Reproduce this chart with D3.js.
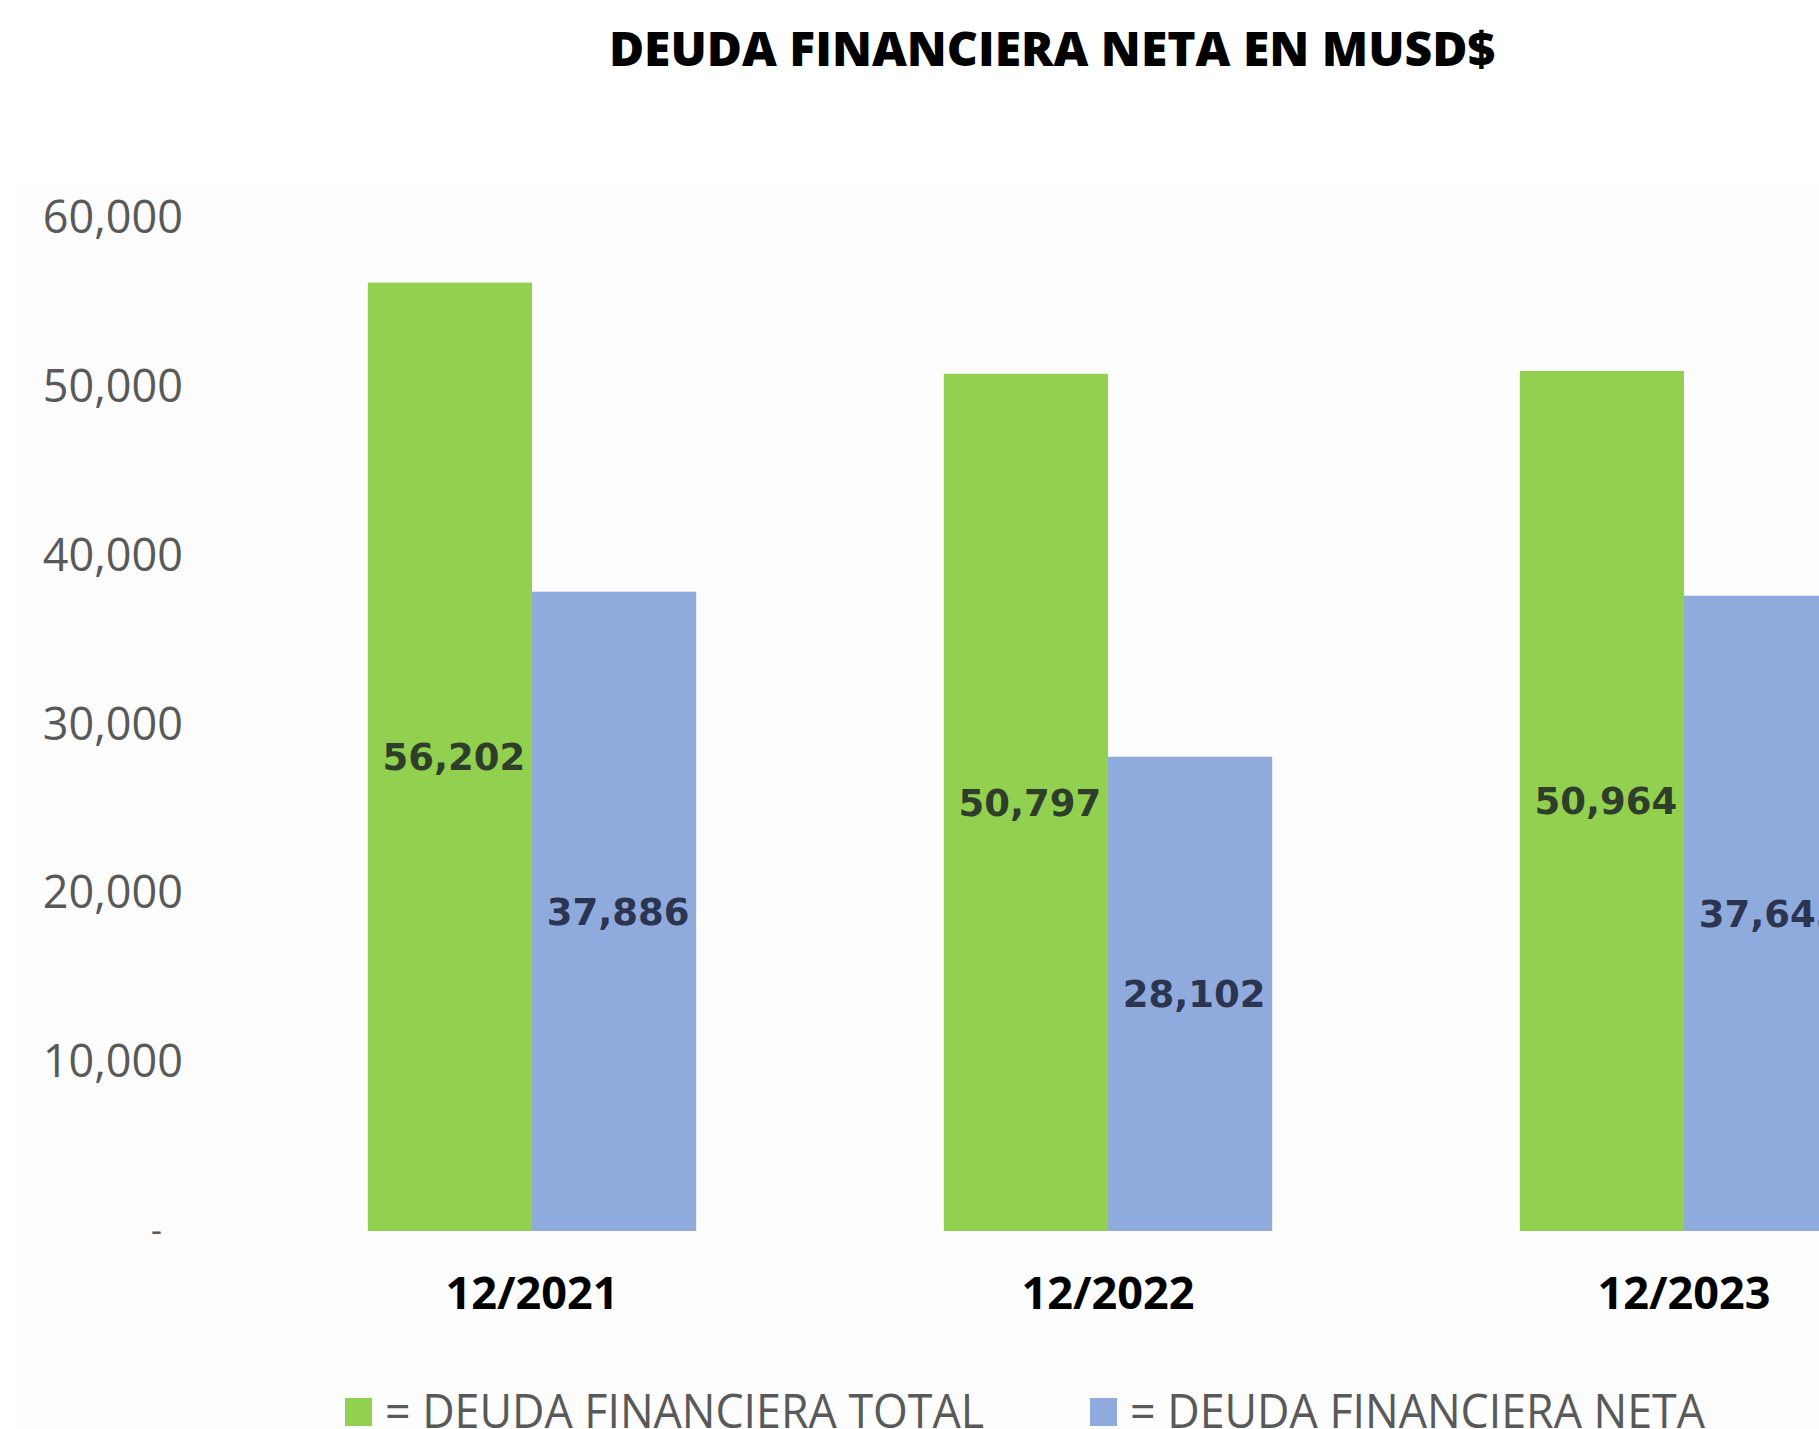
<!DOCTYPE html>
<html>
<head>
<meta charset="utf-8">
<script src="https://cdn.jsdelivr.net/npm/d3@7"></script>
<style>
  html, body { margin: 0; padding: 0; background: #ffffff; overflow: hidden; }
  svg { display: block; }
</style>
</head>
<body>
<script>
// Deuda financiera total vs. neta, en millones de USD
const periods = ["12/2021", "12/2022", "12/2023"];
const seriesKeys = ["total", "neta"];
const seriesNames = ["= DEUDA FINANCIERA TOTAL", "= DEUDA FINANCIERA NETA"];
const deudaTotal = [56202, 50797, 50964];
const deudaNeta = [37886, 28102, 37645];
const yTicks = [0, 10000, 20000, 30000, 40000, 50000, 60000];

const W = 1819, H = 1429;
const colors = { total: "#92d050", neta: "#8faadc" };
const labelColors = { total: "#2f3d2b", neta: "#2b3550" };

const rows = periods.map((p, i) => ({ period: p, total: deudaTotal[i], neta: deudaNeta[i] }));

const svg = d3.select("body").append("svg")
  .attr("width", W).attr("height", H);

// faint plot-area panel
svg.append("rect")
  .attr("x", 20).attr("y", 183)
  .attr("width", W - 20).attr("height", H - 183)
  .attr("fill", "#fdfdfd");

// title
svg.append("text")
  .attr("x", 1052).attr("y", 66)
  .attr("text-anchor", "middle")
  .attr("font-family", "'Open Sans', sans-serif")
  .attr("font-weight", 800)
  .attr("font-size", 48)
  .attr("fill", "#000")
  .text("DEUDA FINANCIERA NETA EN MUSD$");

// scales: the last group runs past the right edge
const x0 = d3.scaleBand()
  .domain(periods)
  .range([244, 1972])
  .paddingInner(0.43)
  .paddingOuter(0.215);

const x1 = d3.scaleBand()
  .domain(seriesKeys)
  .range([0, x0.bandwidth()])
  .padding(0);

const y = d3.scaleLinear()
  .domain([0, 60000])
  .range([1231, 218.5]);

// y axis labels (no line, no ticks)
const fmt = d3.format(",");
const yAxis = d3.axisLeft(y)
  .tickValues(yTicks)
  .tickSize(0)
  .tickPadding(0)
  .tickFormat(d => d === 0 ? "-" : fmt(d));

const yg = svg.append("g")
  .attr("transform", "translate(183,0)")
  .call(yAxis);
yg.select(".domain").remove();
yg.selectAll("text")
  .attr("font-family", "'Open Sans', sans-serif")
  .attr("font-size", 45)
  .attr("fill", "#595959")
  .attr("dy", "0.32em");
yg.selectAll(".tick").filter(d => d === 0).select("text")
  .attr("x", -21)
  .attr("font-size", 34);

// bars
const groups = svg.append("g").selectAll("g")
  .data(rows)
  .join("g")
  .attr("transform", d => `translate(${x0(d.period)},0)`);

groups.selectAll("rect")
  .data(d => seriesKeys.map(k => ({ key: k, value: d[k] })))
  .join("rect")
  .attr("x", d => x1(d.key))
  .attr("width", x1.bandwidth())
  .attr("y", d => y(d.value))
  .attr("height", d => y(0) - y(d.value))
  .attr("fill", d => colors[d.key]);

// value labels centered inside bars
groups.selectAll("text.val")
  .data(d => seriesKeys.map(k => ({ key: k, value: d[k] })))
  .join("text")
  .attr("class", "val")
  .attr("x", d => x1(d.key) + x1.bandwidth() / 2 + 4)
  .attr("y", d => (y(d.value) + y(0)) / 2)
  .attr("dy", "0.36em")
  .attr("text-anchor", "middle")
  .attr("font-family", "'DejaVu Sans', Verdana, sans-serif")
  .attr("font-weight", "bold")
  .attr("font-size", 37)
  .attr("fill", d => labelColors[d.key])
  .text(d => fmt(d.value));

// x axis labels
const xAxis = d3.axisBottom(x0).tickSize(0).tickPadding(0);
const xg = svg.append("g")
  .attr("transform", "translate(0,1309)")
  .call(xAxis);
xg.select(".domain").remove();
xg.selectAll("text")
  .attr("font-family", "'Open Sans', sans-serif")
  .attr("font-weight", "bold")
  .attr("font-size", 45)
  .attr("fill", "#000")
  .attr("dy", 0);

// legend
const legendX = [345, 1090];
const leg = svg.append("g").selectAll("g")
  .data(seriesKeys)
  .join("g")
  .attr("transform", (d, i) => `translate(${legendX[i]},0)`);

leg.append("rect")
  .attr("x", 0).attr("y", 1398)
  .attr("width", 27).attr("height", 28)
  .attr("fill", d => colors[d]);

leg.append("text")
  .attr("x", 40).attr("y", 1428)
  .attr("font-family", "'Open Sans', sans-serif")
  .attr("font-size", 48)
  .attr("fill", "#595959")
  .attr("textLength", (d, i) => i === 0 ? 599 : 575)
  .attr("lengthAdjust", "spacingAndGlyphs")
  .text((d, i) => seriesNames[i]);
</script>
</body>
</html>
